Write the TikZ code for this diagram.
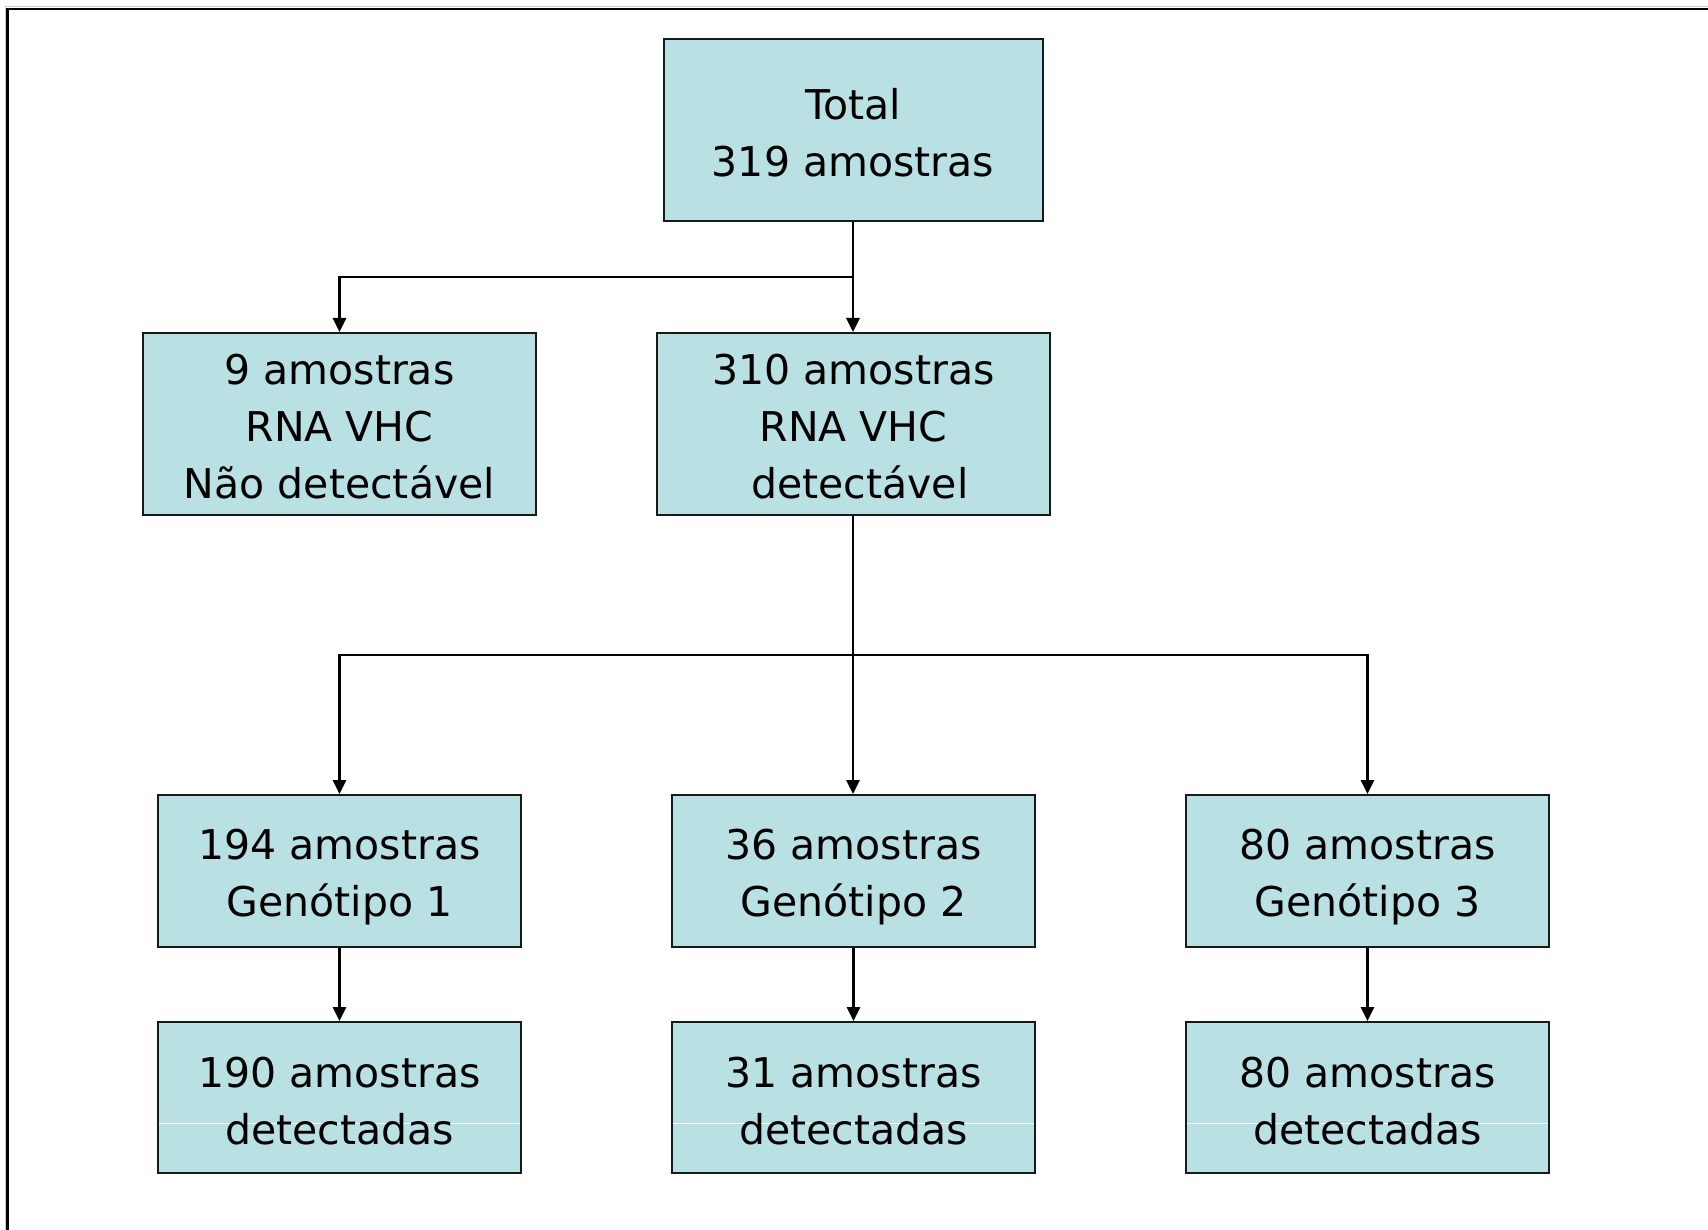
\documentclass[tikz,border=0pt]{standalone}
\usepackage{fontspec}
\setmainfont{DejaVu Sans}
\usetikzlibrary{arrows.meta}
\definecolor{boxfill}{RGB}{185,224,227}
\definecolor{boxline}{RGB}{25,25,25}
\tikzset{
  txt/.style={align=center, inner sep=0pt, font=\fontsize{41}{57}\selectfont},
  box/.style={draw=boxline, line width=2pt, fill=boxfill, inner sep=0pt},
  topbox/.style={box, minimum width=379pt, minimum height=182pt},
  midbox/.style={box, minimum width=393pt, minimum height=182pt},
  genbox/.style={box, minimum width=363pt, minimum height=152pt},
  resbox/.style={box, minimum width=363pt, minimum height=151pt,
    path picture={\draw[white, line width=1pt]
      ([yshift=-25.5pt]path picture bounding box.west) --
      ([yshift=-25.5pt]path picture bounding box.east);}},
  conn/.style={draw=black, line width=2.8pt,
    -{Triangle[length=14pt,width=13pt]}},
}
\begin{document}
\begin{tikzpicture}[x=1pt,y=-1pt]
\useasboundingbox (0,0) rectangle (1708,1230);
\fill[white] (0,0) rectangle (1708,1230);
\draw[gray!40, line width=1pt] (5,1230) -- (5,6.5) -- (1708,6.5);
\draw[black, line width=2.5pt] (7.5,1230) -- (7.5,9) -- (1708,9);

\node[topbox, label={[txt, yshift=-3pt]center:{Total\\319 amostras}}]
  (total) at (853,130) {};
\node[midbox, label={[txt, yshift=-3pt]center:{9 amostras\\RNA VHC\\Não detectável}}]
  (nod) at (339.5,424) {};
\node[midbox, label={[txt, yshift=-3pt]center:{310 amostras\\RNA VHC\\\hspace*{13pt}detectável}}]
  (det) at (853.5,424) {};

\node[genbox, label={[txt, yshift=-6.5pt]center:{194 amostras\\Genótipo 1}}]
  (g1) at (339.5,871) {};
\node[genbox, label={[txt, yshift=-6.5pt]center:{36 amostras\\Genótipo 2}}]
  (g2) at (853.5,871) {};
\node[genbox, label={[txt, yshift=-6.5pt]center:{80 amostras\\Genótipo 3}}]
  (g3) at (1367.5,871) {};

\node[resbox, label={[txt, yshift=-4pt]center:{190 amostras\\detectadas}}]
  (d1) at (339.5,1097.5) {};
\node[resbox, label={[txt, yshift=-4pt]center:{31 amostras\\detectadas}}]
  (d2) at (853.5,1097.5) {};
\node[resbox, label={[txt, yshift=-4pt]center:{80 amostras\\detectadas}}]
  (d3) at (1367.5,1097.5) {};

\coordinate (j1) at (853,277);
\coordinate (j2) at (853,655);

\draw[conn] (total.south -| j1) -- (j1 |- det.north);
\draw[conn] (j1) -| (nod.north);
\draw[conn] (det.south -| j2) -- (j2 |- g2.north);
\draw[conn] (j2) -| (g1.north);
\draw[conn] (j2) -| (g3.north);
\draw[conn] (g1.south) -- (d1.north);
\draw[conn] (g2.south) -- (d2.north);
\draw[conn] (g3.south) -- (d3.north);
\end{tikzpicture}
\end{document}
